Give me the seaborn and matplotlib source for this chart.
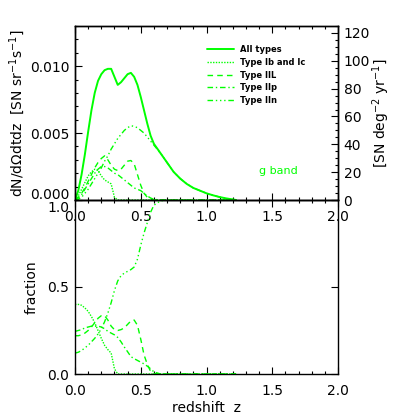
import numpy as np
import pandas as pd
import seaborn as sns
import matplotlib
matplotlib.use("Agg")
import matplotlib.pyplot as plt
from matplotlib.ticker import MultipleLocator, FixedLocator
from matplotlib.transforms import ScaledTranslation

# ---------------- data ----------------
z = [0.000, 0.025, 0.050, 0.075, 0.100, 0.125, 0.150, 0.175, 0.200, 0.225,
     0.250, 0.275, 0.300, 0.325, 0.350, 0.375, 0.400, 0.425, 0.450, 0.475,
     0.500, 0.525, 0.550, 0.575, 0.600, 0.650, 0.700, 0.750, 0.800, 0.850,
     0.900, 0.950, 1.000, 1.050, 1.100, 1.150, 1.200, 1.225]

rate_all = [0, 0.0007, 0.0019, 0.0034, 0.0051, 0.0067, 0.0080, 0.0089, 0.0094, 0.0097,
            0.0098, 0.0098, 0.0092, 0.0086, 0.0088, 0.0091, 0.0094, 0.0095, 0.0092, 0.0086,
            0.0077, 0.0067, 0.0057, 0.0048, 0.0042, 0.0035, 0.0028, 0.0021, 0.0016, 0.0012,
            0.0009, 0.0007, 0.0005, 0.00035, 0.00022, 0.00012, 0.00004, 0.0]
rate_ibc = [0, 0.0003, 0.0008, 0.0013, 0.0018, 0.0021, 0.0023, 0.0022, 0.0018, 0.0015,
            0.00135, 0.0012, 0.0002, 0, 0, 0, 0, 0, 0, 0,
            0, 0, 0, 0, 0, 0, 0, 0, 0, 0,
            0, 0, 0, 0, 0, 0, 0, 0]
rate_iil = [0, 0.0002, 0.0005, 0.0009, 0.0014, 0.0019, 0.0024, 0.0028, 0.0031, 0.0033,
            0.0030, 0.0026, 0.0023, 0.0022, 0.0023, 0.0026, 0.0029, 0.00295, 0.0027, 0.0019,
            0.0011, 0.0005, 0.0002, 0.00005, 0, 0, 0, 0, 0, 0,
            0, 0, 0, 0, 0, 0, 0, 0]
rate_iip = [0, 0.00015, 0.0004, 0.0008, 0.0012, 0.0016, 0.0020, 0.0023, 0.0025, 0.0025,
            0.0024, 0.0022, 0.0020, 0.0019, 0.0017, 0.0015, 0.0013, 0.0011, 0.0009, 0.0008,
            0.0007, 0.0005, 0.0003, 0.00015, 0.00005, 0, 0, 0, 0, 0,
            0, 0, 0, 0, 0, 0, 0, 0]
rate_iin = [0, 0.00005, 0.0002, 0.0005, 0.0008, 0.0012, 0.0016, 0.0020, 0.0024, 0.0029,
            0.0033, 0.0038, 0.0042, 0.0046, 0.0049, 0.0052, 0.0054, 0.00555, 0.0055, 0.0054,
            0.0052, 0.0050, 0.0047, 0.0044, 0.0041, 0.0035, 0.0028, 0.0021, 0.0016, 0.0012,
            0.0009, 0.0007, 0.0005, 0.00035, 0.00022, 0.00012, 0.00004, 0.0]

frac_ibc = [0.40, 0.40, 0.395, 0.38, 0.36, 0.33, 0.295, 0.25, 0.205, 0.165,
            0.14, 0.12, 0.03, 0, 0, 0, 0, 0, 0, 0,
            0, 0, 0, 0, 0, 0, 0, 0, 0, 0,
            0, 0, 0, 0, 0, 0, 0, 0]
frac_iil = [0.22, 0.22, 0.225, 0.235, 0.25, 0.27, 0.295, 0.32, 0.335, 0.335,
            0.31, 0.275, 0.255, 0.25, 0.255, 0.265, 0.285, 0.305, 0.31, 0.28,
            0.20, 0.11, 0.055, 0.015, 0.003, 0, 0, 0, 0, 0,
            0, 0, 0, 0, 0, 0, 0, 0]
frac_iip = [0.245, 0.25, 0.255, 0.265, 0.27, 0.275, 0.275, 0.275, 0.27, 0.26,
            0.245, 0.235, 0.225, 0.21, 0.185, 0.155, 0.128, 0.10, 0.088, 0.078,
            0.068, 0.058, 0.045, 0.03, 0.012, 0, 0, 0, 0, 0,
            0, 0, 0, 0, 0, 0, 0, 0]
frac_iin = [0.12, 0.125, 0.135, 0.15, 0.165, 0.185, 0.205, 0.23, 0.26, 0.30,
            0.35, 0.41, 0.48, 0.535, 0.565, 0.58, 0.59, 0.60, 0.615, 0.66,
            0.74, 0.81, 0.87, 0.93, 0.97, 0.995, 1, 1, 1, 1,
            1, 1, 1, 1, 1, 1, 1, 1]

labels = ["All types", "Type Ib and Ic", "Type IIL", "Type IIp", "Type IIn"]
x_ticks = [0.0, 0.5, 1.0, 1.5, 2.0]
left_ticks = [0.000, 0.005, 0.010]
right_ticks = [0, 20, 40, 60, 80, 100, 120]
frac_ticks = [0.0, 0.5, 1.0]

# ---------------- style ----------------
sns.set_style("ticks")
plt.rcParams["font.family"] = ["DejaVu Sans"]
for key in ("text.color", "axes.labelcolor", "xtick.color", "ytick.color", "axes.edgecolor"):
    plt.rcParams[key] = "black"
GREEN = "#00ff00"
styles = {
    "All types": dict(ls="-", lw=1.4),
    "Type Ib and Ic": dict(ls=(0, (1, 1)), lw=1.0),
    "Type IIL": dict(ls=(0, (4, 3)), lw=1.0),
    "Type IIp": dict(ls=(0, (4, 2, 1, 2)), lw=1.0),
    "Type IIn": dict(ls=(0, (4, 2, 1, 2, 1, 2, 1, 2)), lw=1.0),
}

W = 415.0
fig = plt.figure(figsize=(4.15, 4.15), dpi=100)
ax1 = fig.add_axes([75 / W, 1 - 200 / W, 263 / W, 174 / W])
ax2 = fig.add_axes([75 / W, 1 - 374 / W, 263 / W, 174 / W])
ax2.patch.set_visible(False)

top_df = pd.DataFrame({"z": z, "All types": rate_all, "Type Ib and Ic": rate_ibc,
                       "Type IIL": rate_iil, "Type IIp": rate_iip, "Type IIn": rate_iin})
bot_df = pd.DataFrame({"z": z, "Type Ib and Ic": frac_ibc, "Type IIL": frac_iil,
                       "Type IIp": frac_iip, "Type IIn": frac_iin})

handles = []
for lab in labels:
    st = styles[lab]
    sns.lineplot(data=top_df, x="z", y=lab, ax=ax1, color=GREEN, linestyle=st["ls"],
                 linewidth=st["lw"], label=lab, legend=False)
    handles.append(ax1.lines[-1])
for lab in labels[1:]:
    st = styles[lab]
    sns.lineplot(data=bot_df, x="z", y=lab, ax=ax2, color=GREEN, linestyle=st["ls"],
                 linewidth=st["lw"], legend=False)

if ax1.get_legend() is not None:
    ax1.get_legend().remove()

for ax in (ax1, ax2):
    ax.set_xlim(0, 2)
    ax.xaxis.set_major_locator(FixedLocator(x_ticks))
    ax.xaxis.set_minor_locator(MultipleLocator(0.1))
    for s in ax.spines.values():
        s.set_linewidth(1.0)
        s.set_color("black")
    ax.tick_params(which="both", direction="in", top=True, color="black",
                   labelcolor="black", labelsize=10)
    ax.tick_params(which="major", length=5, width=0.8)
    ax.tick_params(which="minor", length=2.5, width=0.8)
    ax.tick_params(axis="x", pad=7)

ax1.set_ylim(0, 0.013)
ax1.yaxis.set_major_locator(FixedLocator(left_ticks))
ax1.yaxis.set_minor_locator(MultipleLocator(0.001))
ax1.set_yticklabels(["0.000", "0.005", "0.010"])
ax1.tick_params(axis="y", right=False, pad=4)
ax1.set_xticklabels(["0.0", "0.5", "1.0", "1.5", "2.0"])
ax1.set_xlabel("")
ax1.set_ylabel(r"dN/d$\Omega$dtdz  [SN sr$^{-1}$s$^{-1}$]", fontsize=10, labelpad=2,
               color="black")

axr = ax1.twinx()
axr.set_ylim(0, 125)
axr.yaxis.set_major_locator(FixedLocator(right_ticks))
axr.yaxis.set_minor_locator(MultipleLocator(5))
axr.tick_params(which="both", direction="in", labelsize=10, pad=4, color="black",
                labelcolor="black")
axr.tick_params(which="major", length=5, width=0.8)
axr.tick_params(which="minor", length=2.5, width=0.8)
axr.set_ylabel(r"[SN deg$^{-2}$ yr$^{-1}$]", fontsize=10, rotation=90, labelpad=0,
               color="black")
for s in axr.spines.values():
    s.set_linewidth(1.0)
    s.set_color("black")

ax2.set_ylim(0, 1.0)
ax2.yaxis.set_major_locator(FixedLocator(frac_ticks))
ax2.yaxis.set_minor_locator(FixedLocator([]))
ax2.set_yticklabels(["0.0", "0.5", "1.0"])
ax2.tick_params(axis="y", right=True, pad=4)
ax2.set_xticklabels(["0.0", "0.5", "1.0", "1.5", "2.0"])
ax2.set_xlabel("redshift  z", fontsize=10, labelpad=2, color="black")
ax2.set_ylabel("fraction", fontsize=10, labelpad=6, color="black")

# nudge the two labels that meet at the panel junction apart
lab000 = ax1.get_yticklabels()[0]
lab000.set_transform(lab000.get_transform() + ScaledTranslation(0, 4.5 / 72, fig.dpi_scale_trans))
lab10 = ax2.get_yticklabels()[-1]
lab10.set_transform(lab10.get_transform() + ScaledTranslation(0, -4.5 / 72, fig.dpi_scale_trans))

ax1.legend(handles, labels, loc="upper left", bbox_to_anchor=(207 / W, 1 - 45 / W),
           bbox_transform=fig.transFigure, frameon=False,
           prop={"size": 6, "weight": "bold"}, handlelength=3.2, handletextpad=0.7,
           labelspacing=0.45, borderpad=0, borderaxespad=0, labelcolor="black")

fig.text(259 / W, 1 - 171 / W, "g band", color=GREEN, fontsize=8, va="center", ha="left")

fig.savefig("out.png", dpi=100)
